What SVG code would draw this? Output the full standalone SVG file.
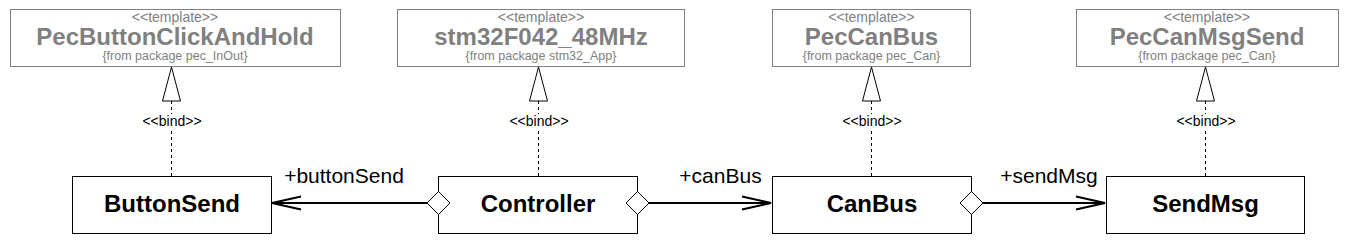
<svg xmlns="http://www.w3.org/2000/svg" width="1351" height="248" viewBox="0 0 1351 248">
<style>
text{font-family:"Liberation Sans",Arial,sans-serif;text-anchor:middle}
.tbox{fill:#fff;stroke:#808080;stroke-width:1}
.stereo{font-size:14px;fill:#808080}
.tname{font-size:24px;font-weight:bold;fill:#808080}
.pkg{font-size:12.5px;fill:#808080}
.cbox{fill:#fff;stroke:#000;stroke-width:1}
.cname{font-size:24px;font-weight:bold;fill:#000}
.dash{stroke:#000;stroke-width:1;stroke-dasharray:3,3;fill:none}
.tri{fill:#fff;stroke:#000;stroke-width:1}
.bind{font-size:14px;fill:#000}
.assoc{stroke:#000;stroke-width:2;fill:none}
.dia{fill:#fff;stroke:#000;stroke-width:1}
.role{font-size:21px;fill:#000}
</style>
<g id="tpl-PecButtonClickAndHold">
<rect class="tbox" x="10.5" y="9.5" width="330" height="57"/>
<text class="stereo" x="175" y="22">&lt;&lt;template&gt;&gt;</text>
<text class="tname" x="175" y="45">PecButtonClickAndHold</text>
<text class="pkg" x="175" y="60">{from package pec_InOut}</text>
</g>
<g id="tpl-stm32F042_48MHz">
<rect class="tbox" x="397.5" y="9.5" width="287" height="57"/>
<text class="stereo" x="541" y="22">&lt;&lt;template&gt;&gt;</text>
<text class="tname" x="541" y="45">stm32F042_48MHz</text>
<text class="pkg" x="541" y="60">{from package stm32_App}</text>
</g>
<g id="tpl-PecCanBus">
<rect class="tbox" x="772.5" y="9.5" width="198" height="57"/>
<text class="stereo" x="871.5" y="22">&lt;&lt;template&gt;&gt;</text>
<text class="tname" x="871.5" y="45">PecCanBus</text>
<text class="pkg" x="871.5" y="60">{from package pec_Can}</text>
</g>
<g id="tpl-PecCanMsgSend">
<rect class="tbox" x="1076.5" y="9.5" width="262" height="57"/>
<text class="stereo" x="1207" y="22">&lt;&lt;template&gt;&gt;</text>
<text class="tname" x="1207" y="45">PecCanMsgSend</text>
<text class="pkg" x="1207" y="60">{from package pec_Can}</text>
</g>
<g id="ButtonSend">
<rect class="cbox" x="72.5" y="176.5" width="199" height="57"/>
<text class="cname" x="172" y="212">ButtonSend</text>
</g>
<g id="Controller">
<rect class="cbox" x="438.5" y="176.5" width="199" height="57"/>
<text class="cname" x="538" y="212">Controller</text>
</g>
<g id="CanBus">
<rect class="cbox" x="772.5" y="176.5" width="199" height="57"/>
<text class="cname" x="872" y="212">CanBus</text>
</g>
<g id="SendMsg">
<rect class="cbox" x="1106.5" y="176.5" width="198" height="57"/>
<text class="cname" x="1205.5" y="212">SendMsg</text>
</g>
<g id="connectors">
<!-- bind realizations -->
<path class="dash" d="M171.5,101 V114 M171.5,131 V176"/>
<polygon class="tri" points="171.5,67 162.5,101 180.5,101"/>
<text class="bind" x="172" y="126">&lt;&lt;bind&gt;&gt;</text>
<path class="dash" d="M538.5,101 V114 M538.5,131 V176"/>
<polygon class="tri" points="538.5,67 529.5,101 547.5,101"/>
<text class="bind" x="539" y="126">&lt;&lt;bind&gt;&gt;</text>
<path class="dash" d="M871.5,101 V114 M871.5,131 V176"/>
<polygon class="tri" points="871.5,67 862.5,101 880.5,101"/>
<text class="bind" x="872" y="126">&lt;&lt;bind&gt;&gt;</text>
<path class="dash" d="M1205.5,101 V114 M1205.5,131 V176"/>
<polygon class="tri" points="1205.5,67 1196.5,101 1214.5,101"/>
<text class="bind" x="1206" y="126">&lt;&lt;bind&gt;&gt;</text>
<!-- associations -->
<path class="assoc" d="M427,203 H272 M301,196.5 L272,203 L301,209.5"/>
<polygon class="dia" points="427,203 438.5,191.5 450,203 438.5,214.5"/>
<text class="role" x="344" y="183">+buttonSend</text>
<path class="assoc" d="M649,203 H771 M742,196.5 L771,203 L742,209.5"/>
<polygon class="dia" points="626,203 637.5,191.5 649,203 637.5,214.5"/>
<text class="role" x="720.5" y="183">+canBus</text>
<path class="assoc" d="M983,203 H1105 M1076,196.5 L1105,203 L1076,209.5"/>
<polygon class="dia" points="960,203 971.5,191.5 983,203 971.5,214.5"/>
<text class="role" x="1049" y="183">+sendMsg</text>
</g>
</svg>
